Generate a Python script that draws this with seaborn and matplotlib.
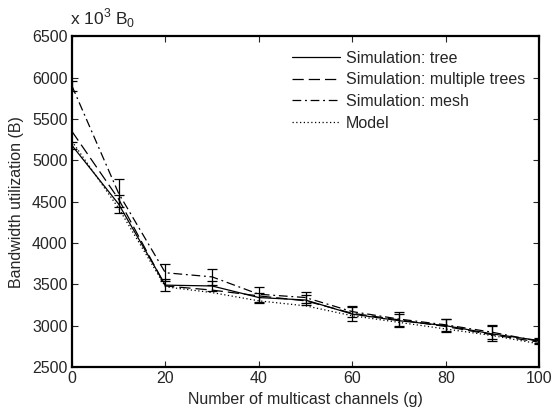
import numpy as np
import pandas as pd
import seaborn as sns
import matplotlib.pyplot as plt

# values (units of 10^3 B0)
channels = [0, 10, 20, 30, 40, 50, 60, 70, 80, 90, 100]
sim_tree = [5180, 4470, 3490, 3480, 3340, 3310, 3140, 3060, 3000, 2900, 2820]
sim_multi = [5350, 4530, 3480, 3430, 3360, 3300, 3150, 3070, 2990, 2890, 2800]
sim_mesh = [5900, 4600, 3640, 3590, 3380, 3340, 3170, 3080, 3010, 2920, 2810]
model = [5230, 4420, 3470, 3400, 3300, 3240, 3120, 3040, 2960, 2880, 2780]
tree_err = [40, 110, 70, 60, 60, 60, 80, 77, 77, 90, 30]
mesh_err = [60, 170, 100, 95, 90, 70, 70, 85, 70, 87, 30]

labels = ['Simulation: tree', 'Simulation: multiple trees', 'Simulation: mesh', 'Model']
styles = ['-', (0, (9, 4)), (0, (7, 3, 1.5, 3)), (0, (1, 2))]

df = pd.DataFrame({'g': channels * 4,
                   'value': sim_tree + sim_multi + sim_mesh + model,
                   'series': sum([[l] * len(channels) for l in labels], [])})

sns.set_style('ticks')
plt.rcParams['font.family'] = ['Liberation Sans', 'DejaVu Sans']
plt.rcParams['mathtext.fontset'] = 'custom'
plt.rcParams['mathtext.rm'] = 'Liberation Sans'

fig = plt.figure(figsize=(5.53, 4.11), dpi=100)
ax = fig.add_axes([0.130, 0.107, 0.845, 0.805])

for lab, ls in zip(labels, styles):
    sub = df[df['series'] == lab]
    sns.lineplot(data=sub, x='g', y='value', ax=ax, color='black', lw=0.9,
                 linestyle=ls, label=lab)

ax.errorbar(channels, sim_tree, yerr=tree_err, fmt='none', ecolor='black',
            elinewidth=0.9, capsize=3.5, capthick=0.9)
ax.errorbar(channels, sim_mesh, yerr=mesh_err, fmt='none', ecolor='black',
            elinewidth=0.9, capsize=3.5, capthick=0.9)

ax.set_xlim(0, 100)
ax.set_ylim(2500, 6500)
ax.set_xticks(range(0, 101, 20))
ax.set_yticks(range(2500, 6501, 500))
ax.tick_params(direction='in', top=True, right=True, labelsize=11.5, length=4, width=0.8, pad=3)
for s in ax.spines.values():
    s.set_linewidth(1.6)
    s.set_color('black')

ax.set_xlabel('Number of multicast channels (g)', fontsize=11.5, labelpad=4)
ax.set_ylabel('Bandwidth utilization (B)', fontsize=11.5, labelpad=6)
ax.text(-0.005, 1.02, r'x 10$^3$ B$_0$', transform=ax.transAxes, fontsize=12.5, ha='left', va='bottom')

ax.legend(loc='upper right', frameon=False, fontsize=11.5, handlelength=3.0,
          handletextpad=0.35, labelspacing=0.42, bbox_to_anchor=(1.0, 1.0))

fig.savefig('out.png', dpi=100)
